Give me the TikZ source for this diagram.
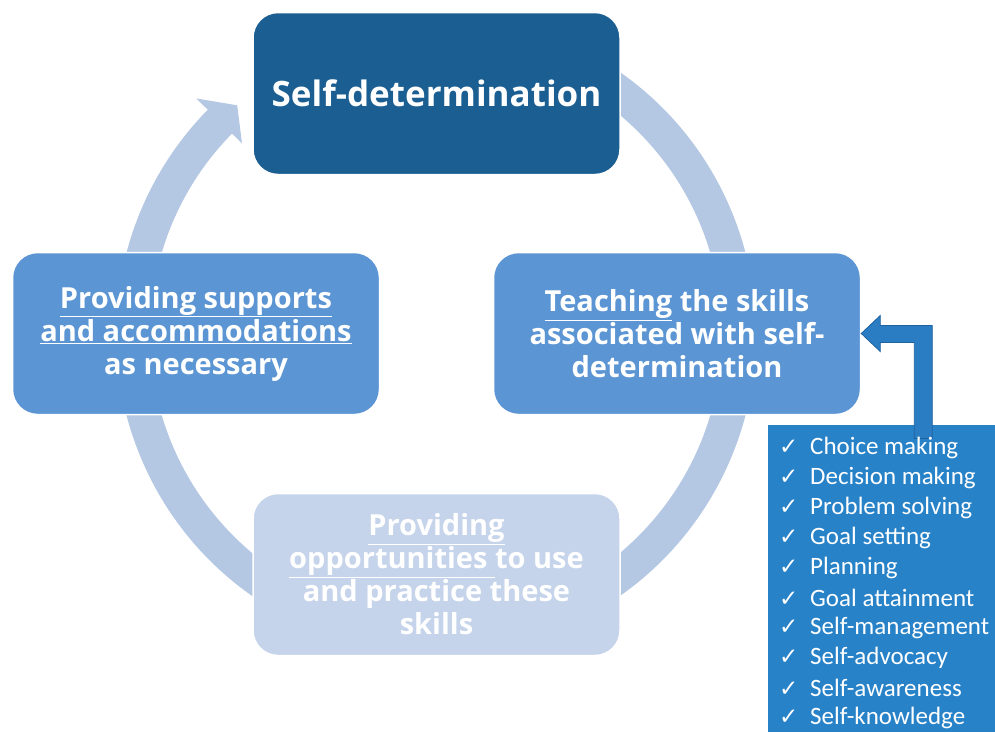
\documentclass[tikz,border=0pt]{standalone}
\usepackage{fontspec}
\setmainfont{Carlito}
\newfontfamily\boxfont{Open Sans}
\newfontfamily\symfont{DejaVu Sans}
\definecolor{ringblue}{HTML}{B4C7E3}
\definecolor{darkblue}{HTML}{1B5E92}
\definecolor{midblue}{HTML}{5B95D3}
\definecolor{paleblue}{HTML}{C5D4EA}
\definecolor{listblue}{HTML}{2882C8}
\definecolor{arrowblue}{HTML}{2A7DC2}
\definecolor{arrowline}{HTML}{1F62A0}
\begin{document}
\begin{tikzpicture}[x=1pt,y=1pt,
      stagebox/.style={rectangle,rounded corners=25pt,draw=white,line width=1.5pt,
        minimum width=367pt,minimum height=162pt,text=white,align=center,
        font=\boxfont\bfseries\fontsize{29}{33}\selectfont},
      skillitem/.style={anchor=west,inner sep=0pt,text=white,
        font=\fontsize{25}{28}\selectfont}]
      \useasboundingbox (0,0) rectangle (995,-732);
      % ring with its one arrow head
      \begin{scope}[shift={(436,-334)}]
      \fill[ringblue] (110:320) arc[start angle=110,end angle=-224.5,radius=320]
        -- (-224.5:336) -- (-229:303) -- (-224.5:272) -- (-224.5:286)
        arc[start angle=-224.5,end angle=110,radius=286] -- cycle;
      \end{scope}
      \node[stagebox,fill=darkblue,font=\boxfont\bfseries\fontsize{35}{40}\selectfont]
        (selfdet) at (436.5,-93.5) {Self-determination};
      \node[stagebox,fill=midblue] (teaching) at (677,-333.5)
        {\underline{Teaching} the skills\\associated with self-\\determination};
      \node[stagebox,fill=midblue] (supports) at (196,-333.5)
        {\underline{Providing supports}\\\underline{and accommodations}\\as necessary};
      \node[stagebox,fill=paleblue] (practice) at (436.5,-574.5)
        {\underline{Providing}\\\underline{opportunities }to use\\and practice these\\skills};
      % list of skills
      \node[rectangle,fill=listblue,minimum width=227pt,minimum height=307pt,inner sep=0pt]
        (skills) at (881.5,-578.5) {};
      \filldraw[fill=arrowblue,draw=arrowline,line width=0.8pt] (teaching.east)
        -- ++(19,18) -- ++(0,-10) -- ++(52,0) -- ++(0,-113) -- ++(-18,0)
        -- ++(0,96) -- ++(-34,0) -- ++(0,-9) -- cycle;
      \foreach \skill [count=\i] in {Choice making,Decision making,Problem solving,
          Goal setting,Planning,Goal attainment,Self-management,Self-advocacy,
          Self-awareness,Self-knowledge}
        \node[skillitem] (item\i) at (779,-448-30*\i+30)
          {\makebox[31pt][l]{\symfont\fontsize{23}{24}\selectfont ✓}\skill};
     \end{tikzpicture}
\end{document}
